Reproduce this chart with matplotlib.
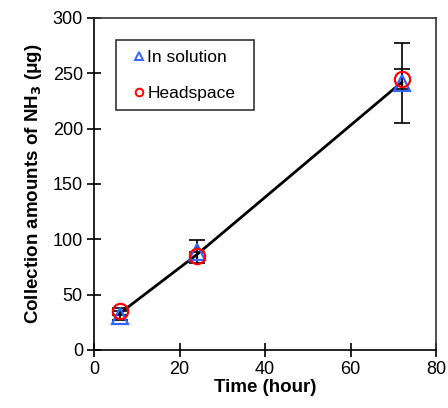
import matplotlib.pyplot as plt

plt.rcParams['font.family'] = ['Liberation Sans', 'DejaVu Sans']

time_h = [6, 24, 72]
in_solution = [31, 89, 241]
in_solution_err = [4, 10, 36]
headspace = [35, 85, 245]
headspace_err = [3, 4, 9]
trend = [33, 86, 242]

fig = plt.figure(figsize=(4.48, 4.08), dpi=100)
ax = fig.add_axes([94 / 448, 58 / 408, 342 / 448, 332 / 408])

ax.plot(time_h, trend, color='black', lw=2, zorder=2)
ax.errorbar(time_h, in_solution, yerr=in_solution_err, fmt='none', ecolor='black',
            elinewidth=1.2, capsize=6, capthick=1.2, zorder=3)
ax.errorbar(time_h, headspace, yerr=headspace_err, fmt='none', ecolor='black',
            elinewidth=1.2, capsize=6, capthick=1.2, zorder=3)
ax.plot(time_h, in_solution, ls='none', marker='^', ms=11, mfc='none', mec='#3366ff',
        mew=1.6, label='In solution', zorder=4)
ax.plot(time_h, headspace, ls='none', marker='o', ms=11, mfc='none', mec='red',
        mew=1.6, label='Headspace', zorder=5)

ax.set_xlim(0, 80)
ax.set_ylim(0, 300)
ax.set_xticks([0, 20, 40, 60, 80])
ax.set_yticks([0, 50, 100, 150, 200, 250, 300])
ax.tick_params(direction='inout', length=10, width=1.2, labelsize=13, pad=3)
for s in ax.spines.values():
    s.set_linewidth(1.2)
ax.spines['top'].set_color('#333333')
ax.spines['right'].set_color('#333333')

ax.set_xlabel('Time (hour)', fontsize=13.5, fontweight='bold', labelpad=1)
ax.set_ylabel('Collection amounts of NH$_\\mathbf{3}$ (μg)', fontsize=13.5,
              fontweight='bold', labelpad=6)

leg = ax.legend(loc='upper left', bbox_to_anchor=(0.064, 0.734, 0.404, 0.2),
                mode='expand', borderaxespad=0, fontsize=12.5,
                frameon=True, fancybox=False, edgecolor='black', handlelength=1.55,
                handletextpad=-0.28, borderpad=0.55, labelspacing=1.2, markerscale=0.5)
leg.get_frame().set_linewidth(1.2)
for h in leg.legend_handles:
    h.set_markeredgewidth(1.4)

fig.savefig('out.png', dpi=100)
